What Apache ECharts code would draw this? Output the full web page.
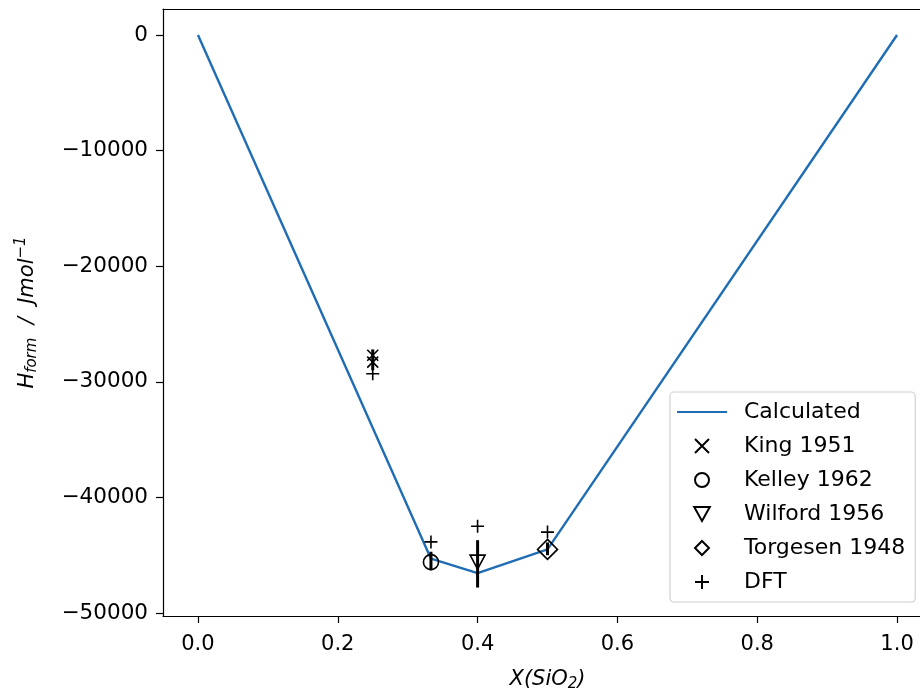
<!DOCTYPE html>
<html>
<head>
<meta charset="utf-8">
<script src="https://cdn.jsdelivr.net/npm/echarts@6/dist/echarts.min.js"></script>
<style>html,body{margin:0;padding:0;background:#fff;}#c{width:920px;height:691px;}</style>
</head>
<body>
<div id="c"></div>
<script>
// ---- data ----
var calcX = [0, 0.3333, 0.4, 0.5, 1];
var calcY = [0, -45300, -46550, -44500, 0];
var kingX = [0.25, 0.25];
var kingY = [-27700, -28300];
var kelleyX = [0.3333];
var kelleyY = [-45600];
var wilfordX = [0.4];
var wilfordY = [-45600];
var torgX = [0.5];
var torgY = [-44500];
var dftX = [0.25, 0.3333, 0.4, 0.5];
var dftY = [-29300, -43850, -42500, -43000];
var errX = [0.25, 0.3333, 0.4, 0.5];
var errLow = [-29000, -46300, -47800, -45000];
var errHigh = [-27200, -44700, -43700, -43900];
var xTicks = [0, 0.2, 0.4, 0.6, 0.8, 1.0];
var yTicks = [-50000, -40000, -30000, -20000, -10000, 0];
var legendNames = ['Calculated', 'King 1951', 'Kelley 1962', 'Wilford 1956', 'Torgesen 1948', 'DFT'];

function zip(a, b) { return a.map(function (v, i) { return [v, b[i]]; }); }

var FONT = 'DejaVu Sans';
var hollow = { color: 'rgba(0,0,0,0)', borderColor: '#000', borderWidth: 1.6, opacity: 1 };
var X_MIN = -0.05, X_MAX = 1.05;

var chart = echarts.init(document.getElementById('c'), null, { renderer: 'canvas' });
chart.setOption({
  animation: false,
  backgroundColor: '#fff',
  textStyle: { fontFamily: FONT },
  grid: { left: 163, top: 9, width: 769, height: 607, outerBoundsMode: 'none', containLabel: false },
  xAxis: [{
    type: 'value', min: X_MIN, max: X_MAX,
    splitLine: { show: false },
    axisLine: { show: true, onZero: false, lineStyle: { color: '#000', width: 1.2 } },
    axisTick: { show: true, length: 7, lineStyle: { color: '#000', width: 1.2 }, customValues: xTicks },
    axisLabel: { customValues: xTicks, color: '#000', fontSize: 21, fontFamily: FONT, margin: 18,
      formatter: function (v) { return v.toFixed(1); } },
    name: 'X(SiO{s|2})',
    nameLocation: 'middle', nameGap: 51,
    nameTextStyle: { color: '#000', fontSize: 21, fontStyle: 'italic', fontFamily: FONT,
      rich: { s: { fontSize: 15, fontStyle: 'italic', fontFamily: FONT, verticalAlign: 'bottom', padding: [10, 0, 0, 0] } } }
  }, {
    type: 'value', position: 'top', min: X_MIN, max: X_MAX,
    splitLine: { show: false },
    axisLine: { show: true, onZero: false, lineStyle: { color: '#000', width: 1.2 } },
    axisTick: { show: false }, axisLabel: { show: false }
  }],
  yAxis: {
    type: 'value', min: -50260, max: 2250,
    splitLine: { show: false },
    axisLine: { show: true, onZero: false, lineStyle: { color: '#000', width: 1.2 } },
    axisTick: { show: true, length: 7, lineStyle: { color: '#000', width: 1.2 }, customValues: yTicks },
    axisLabel: { customValues: yTicks, color: '#000', fontSize: 21.5, fontFamily: FONT, margin: 15,
      formatter: function (v) { return v < 0 ? '\u2212' + Math.abs(v) : String(v); } },
    name: '{i|H}{sub|form}{i|  /  Jmol}{sup|\u22121}',
    nameLocation: 'middle', nameGap: 122, nameRotate: 90,
    nameTextStyle: { color: '#000', fontSize: 20, fontFamily: FONT,
      rich: {
        i: { fontSize: 21, fontStyle: 'italic', fontFamily: FONT },
        sub: { fontSize: 15, fontStyle: 'italic', fontFamily: FONT, padding: [10, 0, 0, 0] },
        sup: { fontSize: 15, fontFamily: FONT, fontStyle: 'italic', padding: [0, 0, 12, 0] }
      } }
  },
  legend: {
    data: [
      { name: 'Calculated', itemStyle: { opacity: 0 } },
      { name: 'King 1951' }, { name: 'Kelley 1962' }, { name: 'Wilford 1956' },
      { name: 'Torgesen 1948' }, { name: 'DFT' }
    ],
    orient: 'vertical', left: 670, top: 392,
    padding: [9, 10, 9, 6],
    itemWidth: 50, itemHeight: 14, itemGap: 12,
    borderColor: '#d0d0d0', borderWidth: 1.2, borderRadius: 4, backgroundColor: '#fff',
    textStyle: { color: '#000', fontSize: 22, fontFamily: FONT, lineHeight: 22, padding: [0, 0, 0, 12] },
    selectedMode: false
  },
  series: [
    { name: 'Calculated', type: 'line', data: zip(calcX, calcY), symbol: 'circle', showSymbol: false,
      lineStyle: { color: '#1f6db5', width: 2.4 }, itemStyle: { color: '#1f6db5' }, z: 2 },
    { name: 'King 1951', type: 'scatter', data: zip(kingX, kingY), symbol: 'path://M0,0L10,10M0,10L10,0',
      symbolSize: 11, itemStyle: hollow, z: 3 },
    { name: 'Kelley 1962', type: 'scatter', data: zip(kelleyX, kelleyY), symbol: 'circle',
      symbolSize: 15, itemStyle: hollow, z: 3 },
    { name: 'Wilford 1956', type: 'scatter', data: zip(wilfordX, wilfordY), symbol: 'path://M0,0L10,0L5,9Z',
      symbolSize: [15, 14], itemStyle: hollow, z: 3 },
    { name: 'Torgesen 1948', type: 'scatter', data: zip(torgX, torgY), symbol: 'path://M5,0L10,5L5,10L0,5Z',
      symbolSize: 20, itemStyle: hollow, z: 3 },
    { name: 'DFT', type: 'scatter', data: zip(dftX, dftY), symbol: 'path://M5,0L5,10M0,5L10,5',
      symbolSize: 13, itemStyle: hollow, z: 3 },
    { name: 'err', type: 'custom', z: 4,
      data: errX.map(function (x, i) { return [x, errLow[i], errHigh[i]]; }),
      renderItem: function (params, api) {
        var a = api.coord([api.value(0), api.value(1)]);
        var b = api.coord([api.value(0), api.value(2)]);
        return { type: 'line', shape: { x1: a[0], y1: a[1], x2: b[0], y2: b[1] },
          style: { stroke: '#000', lineWidth: 3 } };
      } }
  ]
});
</script>
</body>
</html>
